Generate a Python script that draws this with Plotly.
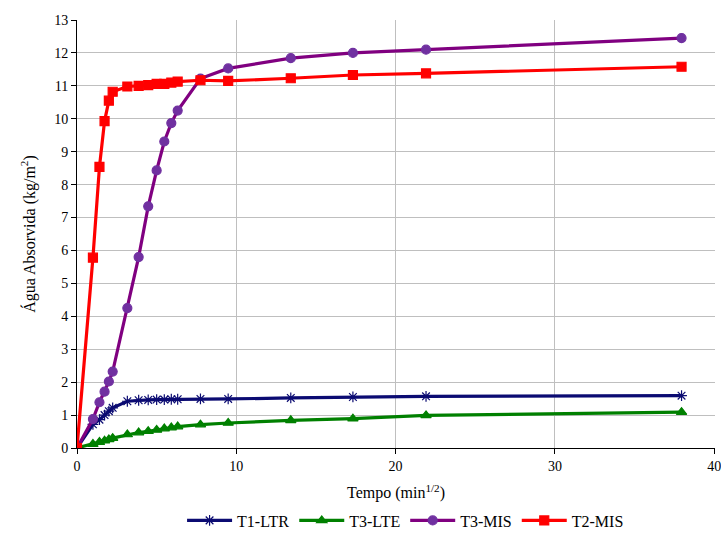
import plotly.graph_objects as go

tempo = [0, 1, 1.41, 1.73, 2, 2.24, 3.16, 3.87, 4.47, 5, 5.48, 5.92, 6.32,
         7.75, 9.49, 13.42, 17.32, 21.91, 37.95]

t1_ltr = [0, 0.72, 0.86, 1.0, 1.12, 1.22, 1.42, 1.45, 1.46, 1.47, 1.47, 1.48, 1.48,
          1.49, 1.49, 1.52, 1.55, 1.57, 1.59]
t3_lte = [0, 0.12, 0.18, 0.22, 0.26, 0.30, 0.41, 0.47, 0.51, 0.55, 0.59, 0.62, 0.65,
          0.71, 0.76, 0.84, 0.89, 0.99, 1.09]
t3_mis = [0, 0.88, 1.39, 1.71, 2.02, 2.32, 4.25, 5.80, 7.34, 8.43, 9.31, 9.87, 10.25,
          11.22, 11.53, 11.84, 12.0, 12.1, 12.45]
t2_mis = [0, 5.78, 8.54, 9.93, 10.55, 10.82, 10.98, 11.0, 11.02, 11.06, 11.06, 11.1, 11.13,
          11.17, 11.15, 11.23, 11.33, 11.38, 11.58]

series = [
    ("T1-LTR", t1_ltr, "#0B0B72", "asterisk-open", 9),
    ("T3-LTE", t3_lte, "#008000", "triangle-up", 9),
    ("T3-MIS", t3_mis, "#800080", "circle", 9),
    ("T2-MIS", t2_mis, "#FF0000", "square", 9),
]
marker_colors = {"T3-MIS": "#7030A0"}

fig = go.Figure()
for name, ys, col, sym, sz in series:
    mc = marker_colors.get(name, col)
    fig.add_trace(go.Scatter(
        x=tempo, y=ys, name=name, mode="lines+markers",
        line=dict(color=col, width=3.2),
        marker=dict(symbol=sym, size=sz, color=mc,
                    line=dict(color=mc, width=1.2)),
    ))

font = "Liberation Serif"
fig.update_layout(
    width=721, height=545,
    margin=dict(l=77, r=6, t=20, b=97, autoexpand=False),
    paper_bgcolor="white", plot_bgcolor="white",
    font=dict(family=font, size=14, color="black"),
    showlegend=True,
    legend=dict(orientation="h", x=0.515, xanchor="center",
                yref="container", y=0.045, yanchor="middle",
                font=dict(family=font, size=16, color="black"),
                itemwidth=45, tracegroupgap=0),
    xaxis=dict(
        range=[0, 40.05], dtick=10, tick0=0,
        showgrid=True, gridcolor="#BFBFBF", gridwidth=1,
        showline=True, linecolor="black", linewidth=1,
        ticks="outside", ticklen=5, tickcolor="black",
        tickfont=dict(family=font, size=14, color="black"),
        ticklabeloverflow="allow",
        zeroline=False,
        title=dict(text="Tempo (min<sup>1/2</sup>)", font=dict(family=font, size=16, color="black"), standoff=14),
    ),
    yaxis=dict(
        range=[0, 13], dtick=1, tick0=0,
        showgrid=True, gridcolor="#BFBFBF", gridwidth=1,
        showline=True, linecolor="black", linewidth=1,
        ticks="outside", ticklen=5, tickcolor="black",
        tickfont=dict(family=font, size=14, color="black"),
        zeroline=False,
        title=dict(text="Água Absorvida (kg/m<sup>2</sup>)", font=dict(family=font, size=16, color="black"), standoff=14),
    ),
)

fig.write_html("out.html")
